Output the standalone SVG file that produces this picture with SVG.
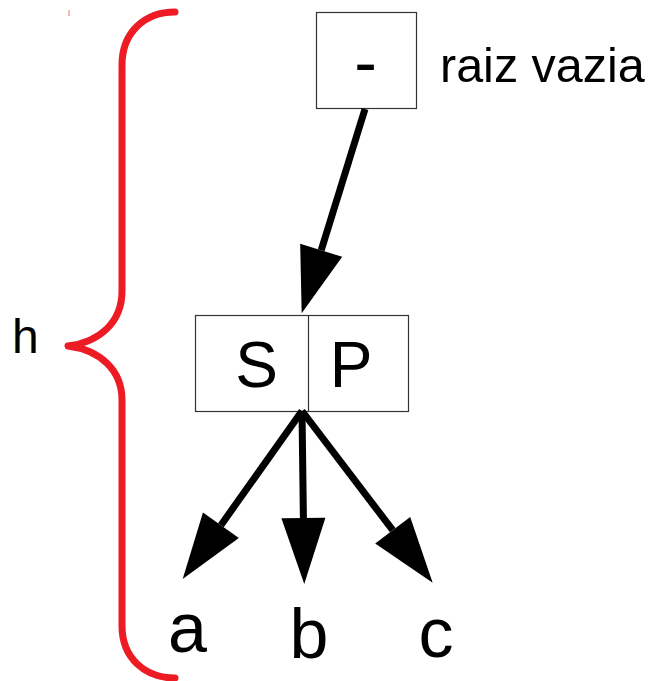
<svg xmlns="http://www.w3.org/2000/svg" width="648" height="681" viewBox="0 0 648 681">
<style>
.box{fill:#fff;stroke:#333;stroke-width:1.2}
.t{font-family:"Liberation Sans",Arial,sans-serif;fill:#000}
.edge{stroke:#000;stroke-width:7;fill:none}
.brace{stroke:#ed1c24;stroke-width:7;fill:none;stroke-linecap:round;stroke-linejoin:round}
</style>
<defs>
<marker id="ah" markerUnits="userSpaceOnUse" markerWidth="70" markerHeight="46" refX="0" refY="22" orient="auto" overflow="visible">
<path d="M0,0 L66,22 L0,44 z" fill="#000"/>
</marker>
</defs>
<rect width="648" height="681" fill="#fff"/>
<g id="brace">
<path class="brace" d="M175,12 C145,12 122,32 122,65 L122,291 C122,322 100,342 68,346 C100,350 122,370 122,400 L122,626 C122,658 145,678 175,678"/>
<line x1="69" y1="10" x2="69" y2="16" stroke="#f4a0a0" stroke-width="1.5"/>
</g>
<g id="label-h"><text class="t" x="12" y="353" font-size="48">h</text></g>
<g id="root">
<rect class="box" x="316.5" y="12.5" width="100" height="96"/>
<text class="t" x="365.5" y="86" font-size="68" text-anchor="middle">-</text>
</g>
<g id="label-root"><text class="t" x="440" y="81.5" font-size="48.5">raiz vazia</text></g>
<g id="sp">
<rect class="box" x="195.5" y="315.5" width="213" height="96"/>
<line x1="308.5" y1="315.5" x2="308.5" y2="411.5" stroke="#333" stroke-width="1.2"/>
<text class="t" x="256.5" y="386.5" font-size="64" text-anchor="middle">S</text>
<text class="t" x="351" y="386.5" font-size="64" text-anchor="middle">P</text>
</g>
<g id="node-a"><text class="t" x="187.5" y="651.5" font-size="70" text-anchor="middle">a</text></g>
<g id="node-b"><text class="t" x="309" y="657.5" font-size="70" text-anchor="middle">b</text></g>
<g id="node-c"><text class="t" x="436" y="657" font-size="70" text-anchor="middle">c</text></g>
<g id="connectors">
<path class="edge" d="M365,109 L321.2,250.3" marker-end="url(#ah)"/>
<path class="edge" d="M302,411 L220.9,525.2" marker-end="url(#ah)"/>
<path class="edge" d="M302,411 L303.4,518" marker-end="url(#ah)"/>
<path class="edge" d="M302,411 L392.7,530.2" marker-end="url(#ah)"/>
</g>
</svg>
